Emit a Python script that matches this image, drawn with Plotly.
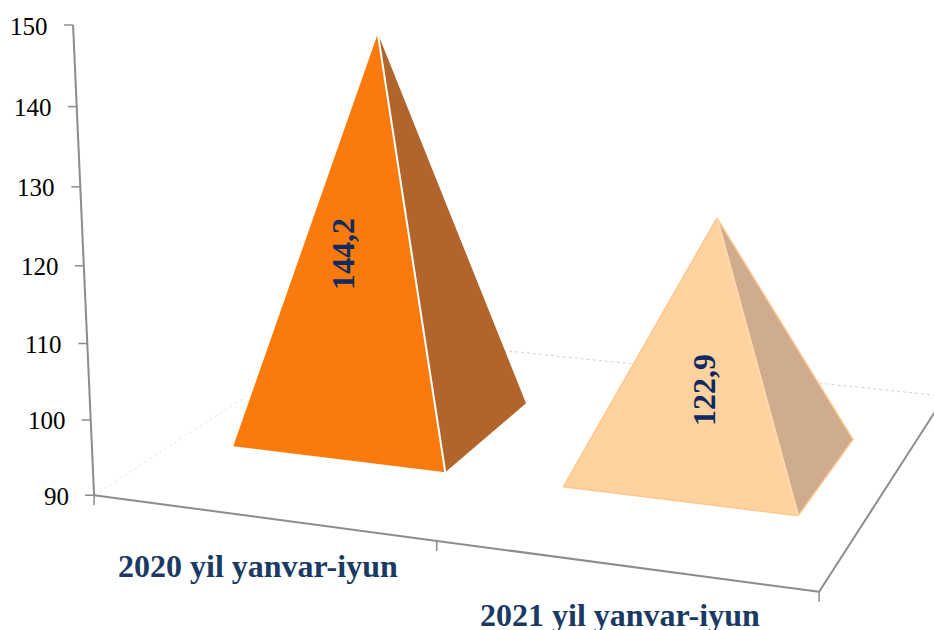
import numpy as np
import plotly.graph_objects as go

# ---- data ----
categories = ["2020 yil yanvar-iyun", "2021 yil yanvar-iyun"]
values = [144.2, 122.9]
value_labels = ["144,2", "122,9"]
z_ticks = [90, 100, 110, 120, 130, 140, 150]
z_tick_labels = ["90", "100", "110", "120", "130", "140", "150"]

# ---- 3D camera, calibrated on the chart frame only ----
floor_world = [(0, 0), (1, 0), (2, 0), (2, 1), (0, 1)]
floor_page = [(94, 495), (437, 541), (819, 592), (945, 396), (342, 334)]
vertical_vanish = (519, 10000)  # page point where the vertical edges converge
axis_top_y = 25                 # page height of value 150 on the left axis


def fit_camera():
    rows, rhs = [], []
    for (x, y), (u, w) in zip(floor_world, floor_page):
        rows.append([x, y, 1, 0, 0, 0, -u * x, -u * y])
        rhs.append(u)
        rows.append([0, 0, 0, x, y, 1, -w * x, -w * y])
        rhs.append(w)
    p = np.linalg.lstsq(np.array(rows, float), np.array(rhs, float), rcond=None)[0]
    H = np.append(p, 1).reshape(3, 3)
    o = H @ np.array([0, 0, 1.0])
    o_y, o_w = o[1] / o[2], o[2]
    c3 = o_w * (axis_top_y - o_y) / (vertical_vanish[1] - axis_top_y)
    col_z = np.array([vertical_vanish[0] * c3, vertical_vanish[1] * c3, c3])
    return H, col_z


H, COL_Z = fit_camera()


def project(x, y, v):
    h = H @ np.array([x, y, 1.0]) + COL_Z * ((v - 90) / 60)
    return float(h[0] / h[2]), float(h[1] / h[2])


def poly_trace(points, fill, line=None, width=0):
    xs = [p[0] for p in points] + [points[0][0]]
    ys = [p[1] for p in points] + [points[0][1]]
    return go.Scatter(x=xs, y=ys, mode="lines", fill="toself", fillcolor=fill,
                      line=dict(color=line or fill, width=width if line else 0),
                      hoverinfo="skip", showlegend=False)


def seg(p, q, color, width, dash=None):
    return go.Scatter(x=[p[0], q[0]], y=[p[1], q[1]], mode="lines",
                      line=dict(color=color, width=width, dash=dash),
                      hoverinfo="skip", showlegend=False)


AXIS = "#8c8c8c"
NAVY = "#1a3a63"
fig = go.Figure()

# faint floor edges
fig.add_trace(seg(project(0, 0, 90), project(0, 1, 90), "#e6e6e6", 1, "dot"))
fig.add_trace(seg(project(0, 1, 90), project(2, 1, 90), "#d4d4d4", 1, "dot"))

# axes
fig.add_trace(seg(project(0, 0, 90), project(0, 0, 150), AXIS, 2))
fig.add_trace(seg(project(0, 0, 90), project(2, 0, 90), AXIS, 2))
fig.add_trace(seg(project(2, 0, 90), project(2, 1, 90), AXIS, 2))

for tick in z_ticks:
    px, py = project(0, 0, tick)
    fig.add_trace(seg((px - 9, py), (px, py), AXIS, 1.5))
for cx in [0, 1, 2]:
    px, py = project(cx, 0, 90)
    fig.add_trace(seg((px, py), (px, py + 10), AXIS, 1.5))

# pyramids
HW, HD = 0.327, 0.20
styles = [("#fa7a0c", "#b1652a", None, "#ffffff"), ("#ffd39f", "#cfac8d", "#ffc68c", "#ffd9ae")]
for i, (val, st) in enumerate(zip(values, styles)):
    cx = i + 0.5
    FL = project(cx - HW, 0.5 - HD, 90)
    FR = project(cx + HW, 0.5 - HD, 90)
    BR = project(cx + HW, 0.5 + HD, 90)
    TOP = project(cx, 0.5, val)
    fig.add_trace(poly_trace([FR, BR, TOP], st[1], st[2], 1.5))
    fig.add_trace(poly_trace([FL, FR, TOP], st[0], st[2], 1.5))
    fig.add_trace(seg(TOP, FR, st[3], 2))

annotations = []
for t, lab in zip(z_ticks, z_tick_labels):
    px, py = project(0, 0, t)
    annotations.append(dict(x=px - 23, y=py + 1, text=lab, showarrow=False, xanchor="right", yanchor="middle",
                            font=dict(family="Liberation Serif", size=25, color="#000000")))
for i, name in enumerate(categories):
    px, py = project(i + 0.5, 0, 90)
    annotations.append(dict(x=px - 3, y=py + 49, text="<b>%s</b>" % name, showarrow=False,
                            font=dict(family="Liberation Serif", size=32, color=NAVY)))
label_pos = [(343, 254), (704, 390)]
for (lx, ly), lab in zip(label_pos, value_labels):
    annotations.append(dict(x=lx, y=ly, text="<b>%s</b>" % lab, showarrow=False, textangle=-90,
                            font=dict(family="Liberation Serif", size=32, color="#0f2a5f")))

fig.update_layout(width=934, height=630, margin=dict(l=0, r=0, t=0, b=0),
                  paper_bgcolor="white", plot_bgcolor="white", showlegend=False,
                  annotations=annotations,
                  xaxis=dict(range=[0, 934], visible=False, fixedrange=True),
                  yaxis=dict(range=[630, 0], visible=False, fixedrange=True))
fig.write_html("out.html", config={"displayModeBar": False},
               post_script="document.body.style.margin='0';document.body.style.overflow='hidden';")
